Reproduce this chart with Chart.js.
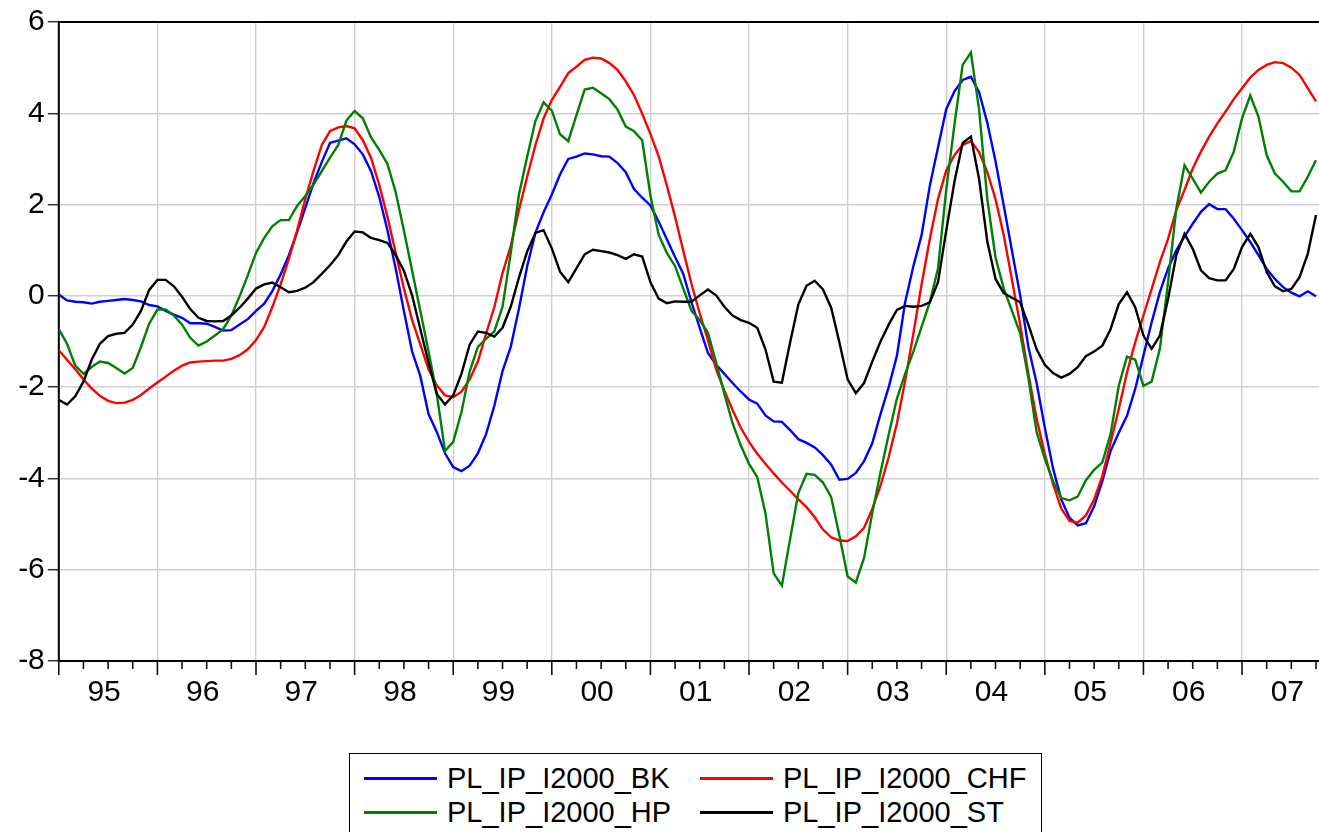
<!DOCTYPE html>
<html>
<head>
<meta charset="utf-8">
<script src="https://cdn.jsdelivr.net/npm/chart.js@4.4.1/dist/chart.umd.min.js"></script>
<style>
  html, body { margin: 0; padding: 0; background: #fff; overflow: hidden; width: 1319px; height: 832px; }
  #wrap { position: relative; width: 1330px; height: 832px; }
  #c { position: absolute; left: 0; top: 0; }
  #legend {
    position: absolute; left: 349px; top: 753px; width: 693px; height: 120px;
    border: 1.5px solid #000; box-sizing: border-box; background: #fff;
    font-family: "Liberation Sans", Arial, sans-serif; font-size: 29px; color: #000;
  }
  .item { position: absolute; height: 34px; display: flex; align-items: center; white-space: nowrap; }
  .swatch { display: inline-block; width: 73px; height: 3px; margin-right: 10px; }
</style>
</head>
<body>
<div id="wrap">
  <canvas id="c" width="1330" height="832"></canvas>
  <div id="legend"></div>
</div>
<script>
// Monthly observations, 1995M01 onward
const yearLabels = ['95', '96', '97', '98', '99', '00', '01', '02', '03', '04', '05', '06', '07'];
const seriesNames = ['PL_IP_I2000_BK', 'PL_IP_I2000_CHF', 'PL_IP_I2000_HP', 'PL_IP_I2000_ST'];
const seriesColors = ['#0000ff', '#ff0000', '#008000', '#000000'];

const bk = [
  0.03, -0.10, -0.13, -0.14, -0.17, -0.13, -0.11, -0.09, -0.07, -0.09, -0.12, -0.20,
  -0.23, -0.33, -0.41, -0.48, -0.60, -0.60, -0.61, -0.68, -0.76, -0.75, -0.63, -0.51,
  -0.33, -0.17, 0.11, 0.47, 0.89, 1.39, 1.93, 2.47, 2.93, 3.35, 3.40, 3.45,
  3.32, 3.10, 2.73, 2.17, 1.43, 0.60, -0.33, -1.22, -1.76, -2.59, -2.98, -3.45,
  -3.75, -3.84, -3.72, -3.45, -3.03, -2.41, -1.65, -1.12, -0.28, 0.65, 1.38, 1.83,
  2.22, 2.66, 3.00, 3.05, 3.12, 3.10, 3.06, 3.05, 2.91, 2.71, 2.34, 2.15,
  1.98, 1.63, 1.24, 0.85, 0.48, -0.14, -0.70, -1.25, -1.51, -1.71, -1.91, -2.10,
  -2.27, -2.36, -2.62, -2.75, -2.76, -2.94, -3.14, -3.22, -3.32, -3.49, -3.70, -4.03,
  -4.01, -3.88, -3.62, -3.23, -2.59, -2.00, -1.31, -0.14, 0.65, 1.33, 2.41, 3.25,
  4.09, 4.48, 4.73, 4.80, 4.46, 3.79, 2.95, 1.98, 0.99, 0.01, -1.12, -1.91,
  -2.89, -3.78, -4.46, -4.86, -5.03, -4.98, -4.61, -4.06, -3.40, -3.00, -2.63, -2.04,
  -1.31, -0.58, 0.08, 0.60, 1.00, 1.30, 1.58, 1.84, 2.01, 1.90, 1.90, 1.69,
  1.44, 1.18, 0.89, 0.59, 0.37, 0.19, 0.07, -0.01, 0.10, -0.01
];

const chf = [
  -1.19, -1.40, -1.61, -1.83, -2.03, -2.19, -2.30, -2.35, -2.34, -2.28, -2.17, -2.03,
  -1.90, -1.77, -1.64, -1.53, -1.46, -1.44, -1.43, -1.42, -1.42, -1.38, -1.30, -1.17,
  -0.97, -0.68, -0.24, 0.25, 0.81, 1.43, 2.12, 2.74, 3.30, 3.61, 3.69, 3.72,
  3.67, 3.41, 3.02, 2.43, 1.73, 0.94, 0.16, -0.53, -1.07, -1.61, -1.96, -2.18,
  -2.22, -2.10, -1.83, -1.44, -0.83, -0.25, 0.50, 1.09, 1.88, 2.61, 3.30, 3.89,
  4.29, 4.58, 4.88, 5.02, 5.17, 5.22, 5.20, 5.10, 4.95, 4.70, 4.40, 3.99,
  3.55, 3.06, 2.42, 1.73, 0.99, 0.26, -0.38, -0.97, -1.61, -2.08, -2.50, -2.89,
  -3.20, -3.46, -3.68, -3.89, -4.09, -4.27, -4.46, -4.63, -4.85, -5.12, -5.29, -5.36,
  -5.37, -5.27, -5.08, -4.67, -4.16, -3.53, -2.79, -1.86, -0.83, 0.25, 1.24, 2.12,
  2.75, 3.08, 3.31, 3.39, 3.15, 2.71, 2.12, 1.33, 0.35, -0.63, -1.71, -2.69,
  -3.47, -4.12, -4.66, -4.93, -4.97, -4.81, -4.46, -3.95, -3.22, -2.48, -1.68, -1.02,
  -0.43, 0.15, 0.74, 1.25, 1.88, 2.32, 2.79, 3.16, 3.49, 3.78, 4.04, 4.31,
  4.55, 4.78, 4.95, 5.06, 5.12, 5.10, 5.00, 4.84, 4.55, 4.26
];

const hp = [
  -0.73, -1.05, -1.53, -1.71, -1.56, -1.44, -1.47, -1.58, -1.70, -1.58, -1.12, -0.61,
  -0.30, -0.30, -0.43, -0.63, -0.92, -1.09, -1.00, -0.87, -0.73, -0.43, -0.01, 0.45,
  0.94, 1.27, 1.53, 1.66, 1.66, 1.97, 2.19, 2.44, 2.73, 3.03, 3.30, 3.84,
  4.05, 3.89, 3.47, 3.20, 2.89, 2.27, 1.43, 0.55, -0.33, -1.22, -2.15, -3.40,
  -3.20, -2.55, -1.66, -1.12, -0.94, -0.78, -0.24, 0.94, 2.22, 3.05, 3.83, 4.24,
  4.06, 3.54, 3.39, 3.96, 4.52, 4.56, 4.44, 4.31, 4.08, 3.71, 3.61, 3.41,
  2.20, 1.34, 0.94, 0.65, 0.16, -0.33, -0.53, -0.81, -1.46, -2.15, -2.79, -3.28,
  -3.68, -3.97, -4.76, -6.08, -6.35, -5.33, -4.32, -3.90, -3.92, -4.09, -4.41, -5.25,
  -6.15, -6.28, -5.74, -4.76, -3.87, -3.04, -2.25, -1.71, -1.22, -0.68, -0.14, 0.60,
  2.32, 3.75, 5.06, 5.33, 4.08, 2.12, 0.84, 0.16, -0.33, -0.82, -1.80, -2.98,
  -3.57, -4.06, -4.43, -4.48, -4.40, -4.04, -3.81, -3.65, -3.03, -1.97, -1.33, -1.40,
  -1.97, -1.88, -1.16, 0.30, 1.91, 2.86, 2.57, 2.26, 2.50, 2.68, 2.75, 3.16,
  3.89, 4.39, 3.93, 3.08, 2.68, 2.50, 2.29, 2.29, 2.61, 2.97
];

const st = [
  -2.28, -2.38, -2.20, -1.88, -1.40, -1.05, -0.88, -0.83, -0.81, -0.63, -0.33, 0.13,
  0.35, 0.35, 0.21, -0.02, -0.29, -0.48, -0.55, -0.56, -0.55, -0.43, -0.26, -0.06,
  0.16, 0.25, 0.29, 0.19, 0.08, 0.11, 0.18, 0.30, 0.48, 0.67, 0.89, 1.19,
  1.41, 1.39, 1.27, 1.22, 1.16, 0.89, 0.55, 0.01, -0.73, -1.46, -2.15, -2.38,
  -2.18, -1.71, -1.07, -0.78, -0.81, -0.89, -0.70, -0.24, 0.40, 0.97, 1.38, 1.44,
  1.04, 0.53, 0.30, 0.60, 0.91, 1.01, 0.98, 0.95, 0.89, 0.81, 0.91, 0.86,
  0.30, -0.06, -0.16, -0.12, -0.13, -0.13, 0.01, 0.14, 0.01, -0.24, -0.43, -0.53,
  -0.59, -0.70, -1.17, -1.88, -1.90, -1.02, -0.19, 0.22, 0.33, 0.14, -0.26, -1.02,
  -1.83, -2.13, -1.91, -1.44, -1.00, -0.63, -0.31, -0.22, -0.24, -0.22, -0.14, 0.30,
  1.43, 2.50, 3.35, 3.49, 2.56, 1.19, 0.37, 0.06, -0.04, -0.14, -0.63, -1.17,
  -1.51, -1.69, -1.79, -1.71, -1.56, -1.32, -1.22, -1.09, -0.73, -0.18, 0.08, -0.25,
  -0.87, -1.16, -0.87, -0.07, 0.89, 1.36, 1.03, 0.56, 0.39, 0.34, 0.34, 0.59,
  1.07, 1.36, 1.07, 0.52, 0.21, 0.10, 0.15, 0.41, 0.92, 1.77
];

const seriesValues = [bk, chf, hp, st];
const FONT = '"Liberation Sans", Arial, sans-serif';

// observation number on the x axis: 0 = 1995M01
const toPoints = vals => vals.map((v, i) => ({ x: i, y: v }));

const datasets = seriesNames.map((name, k) => ({
  label: name,
  data: toPoints(seriesValues[k]),
  borderColor: seriesColors[k],
  backgroundColor: seriesColors[k],
  borderWidth: 2.4,
  pointRadius: 0,
  tension: 0,
  fill: false,
  order: seriesNames.length - 1 - k   // later series drawn on top
}));

// plot frame and quarterly / yearly tick marks along the date axis
const frameTicks = {
  id: 'frameTicks',
  beforeDatasetsDraw(chart) {
    const { ctx, chartArea: a } = chart;
    ctx.save();
    ctx.strokeStyle = '#000';
    ctx.lineWidth = 2;
    ctx.strokeRect(a.left, a.top, a.right - a.left, a.bottom - a.top);
    ctx.restore();
  },
  afterDraw(chart) {
    const { ctx, chartArea: a, scales: { x } } = chart;
    ctx.save();
    ctx.strokeStyle = '#111';
    ctx.lineWidth = 1.6;
    x.ticks.forEach(t => {
      const px = x.getPixelForValue(t.value);
      const len = t.value % 12 === 0 ? 14 : 8;
      ctx.beginPath();
      ctx.moveTo(px, a.bottom);
      ctx.lineTo(px, a.bottom + len);
      ctx.stroke();
    });
    ctx.restore();
  }
};

const chart = new Chart(document.getElementById('c'), {
  type: 'line',
  data: { datasets },
  plugins: [frameTicks],
  options: {
    responsive: false,
    animation: false,
    devicePixelRatio: 1,
    events: [],
    layout: { padding: { top: 22, right: 2.7, left: 0, bottom: 0 } },
    plugins: { legend: { display: false }, tooltip: { enabled: false } },
    scales: {
      x: {
        type: 'linear',
        min: 0,
        max: 154,
        afterFit(scale) { scale.height = 171; },
        border: { display: false },
        grid: {
          drawTicks: false,
          lineWidth: 1.4,
          color: c => (c.tick && c.tick.value % 12 === 0) ? '#d0d0d0' : 'rgba(0,0,0,0)'
        },
        ticks: {
          stepSize: 3,
          includeBounds: false,
          autoSkip: false,
          maxRotation: 0,
          padding: 14,
          labelOffset: -4,
          color: '#000',
          font: { family: FONT, size: 30 },
          callback: v => (v % 12 === 6) ? yearLabels[Math.floor(v / 12)] : ''
        }
      },
      y: {
        min: -8,
        max: 6,
        afterFit(scale) { scale.width = 58.8; },
        border: { display: false },
        grid: {
          color: '#d0d0d0',
          lineWidth: 1.4,
          drawTicks: true,
          tickLength: 11,
          tickColor: '#333',
          tickWidth: 1.5
        },
        ticks: {
          stepSize: 2,
          padding: 3,
          color: '#000',
          font: { family: FONT, size: 30 }
        }
      }
    }
  }
});

// legend box: two columns of line samples and series names
const legend = document.getElementById('legend');
const cols = [14, 350];
const rows = [7, 41];
chart.data.datasets.forEach((ds, k) => {
  const item = document.createElement('div');
  item.className = 'item';
  item.style.left = cols[k % 2] + 'px';
  item.style.top = rows[Math.floor(k / 2)] + 'px';
  const sw = document.createElement('span');
  sw.className = 'swatch';
  sw.style.background = ds.borderColor;
  const tx = document.createElement('span');
  tx.textContent = ds.label;
  item.appendChild(sw);
  item.appendChild(tx);
  legend.appendChild(item);
});
</script>
</body>
</html>
